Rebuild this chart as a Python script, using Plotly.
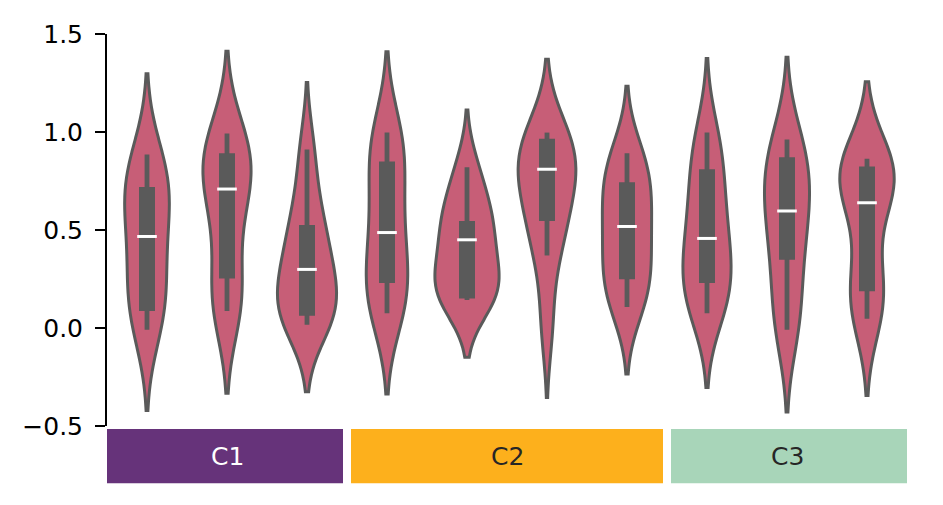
import numpy as np
import plotly.graph_objects as go

# ---- data ----
groups = ["C1", "C2", "C3"]
group_sizes = [3, 4, 3]
group_colors = ["#66337a", "#fdb01c", "#a8d5b9"]
group_text_colors = ["#ffffff", "#262626", "#262626"]

samples = [
    [-0.009, 0.08, 0.17, 0.28, 0.42, 0.56, 0.65, 0.72, 0.79, 0.885],
    [0.087, 0.12, 0.22, 0.45, 0.65, 0.74, 0.80, 0.86, 0.92, 0.992],
    [0.017, 0.05, 0.09, 0.15, 0.23, 0.32, 0.41, 0.51, 0.66, 0.911],
    [0.075, 0.12, 0.20, 0.30, 0.42, 0.55, 0.70, 0.85, 0.95, 0.997],
    [0.143, 0.15, 0.19, 0.25, 0.34, 0.43, 0.51, 0.58, 0.67, 0.82],
    [0.02, 0.37, 0.48, 0.60, 0.70, 0.77, 0.84, 0.90, 0.95, 0.997],
    [0.107, 0.17, 0.26, 0.35, 0.45, 0.55, 0.64, 0.73, 0.82, 0.891],
    [0.075, 0.14, 0.22, 0.30, 0.39, 0.49, 0.61, 0.74, 0.87, 0.997],
    [-0.009, 0.05, 0.25, 0.40, 0.52, 0.62, 0.71, 0.80, 0.88, 0.962],
    [0.047, 0.12, 0.20, 0.35, 0.66, 0.72, 0.76, 0.80, 0.83, 0.864],
]
bandwidths = [0.206, 0.21, 0.171, 0.206, 0.146, 0.187, 0.171, 0.189, 0.21, 0.196]

q1 = [0.087, 0.252, 0.062, 0.230, 0.151, 0.546, 0.249, 0.230, 0.348, 0.188]
medians = [0.467, 0.709, 0.299, 0.487, 0.450, 0.810, 0.518, 0.457, 0.597, 0.639]
q3 = [0.720, 0.891, 0.526, 0.849, 0.546, 0.965, 0.743, 0.810, 0.871, 0.824]
whisker_low = [-0.009, 0.087, 0.017, 0.075, 0.143, 0.370, 0.107, 0.075, -0.009, 0.047]
whisker_high = [0.885, 0.992, 0.911, 0.997, 0.820, 0.997, 0.891, 0.997, 0.962, 0.864]

y_ticks = [-0.5, 0.0, 0.5, 1.0, 1.5]

# ---- styles ----
violin_fill = "#c75e77"
edge = "#5a5a5a"
font_family = "DejaVu Sans"
max_violin_width = 0.8

n = len(samples)
positions = list(range(n))
x_range = [-0.5, n - 0.5]


def kde_peak(values, bw):
    v = np.asarray(values, dtype=float)
    grid = np.linspace(v.min() - 2 * bw, v.max() + 2 * bw, 801)
    dens = np.exp(-0.5 * ((grid[:, None] - v[None, :]) / bw) ** 2).sum(axis=1)
    dens /= len(v) * bw * np.sqrt(2 * np.pi)
    return dens.max()


# equal-area scaling: widest density peak gets the full width
peaks = [kde_peak(s, bw) for s, bw in zip(samples, bandwidths)]
widths = [max_violin_width * p / max(peaks) for p in peaks]

fig = go.Figure()

for pos, s, bw, w in zip(positions, samples, bandwidths, widths):
    fig.add_trace(go.Violin(
        x=[pos] * len(s), y=s, bandwidth=bw, width=w,
        scalegroup=f"v{pos}", scalemode="width", spanmode="soft",
        points=False, box_visible=False, meanline_visible=False,
        fillcolor=violin_fill, line=dict(color=edge, width=3),
        hoverinfo="skip", showlegend=False,
    ))

# whiskers
wx, wy = [], []
for pos, lo, hi in zip(positions, whisker_low, whisker_high):
    wx += [pos, pos, None]
    wy += [lo, hi, None]
fig.add_trace(go.Scatter(x=wx, y=wy, mode="lines",
                         line=dict(color=edge, width=4.8),
                         hoverinfo="skip", showlegend=False))
# boxes
bx, by = [], []
for pos, a, b in zip(positions, q1, q3):
    bx += [pos, pos, None]
    by += [a, b, None]
fig.add_trace(go.Scatter(x=bx, y=by, mode="lines",
                         line=dict(color=edge, width=16),
                         hoverinfo="skip", showlegend=False))
# medians
fig.add_trace(go.Scatter(x=positions, y=medians, mode="markers",
                         marker=dict(symbol="line-ew", size=14,
                                     line=dict(color="white", width=3)),
                         hoverinfo="skip", showlegend=False))

# category strips below the axis
shapes, annotations = [], []
start = 0
gap = 0.05
span = x_range[1] - x_range[0]
for gi, (g, size, col, tcol) in enumerate(zip(groups, group_sizes, group_colors, group_text_colors)):
    left = start - 0.5
    right = start + size - 0.5
    l = left + (gap if gi > 0 else 0)
    r = right - (gap if gi < len(groups) - 1 else 0)
    shapes.append(dict(type="rect", xref="paper", yref="paper",
                       x0=(l - x_range[0]) / span, x1=(r - x_range[0]) / span,
                       y0=-0.0076, y1=-0.146,
                       fillcolor=col, line=dict(width=0), layer="above"))
    annotations.append(dict(xref="x", yref="paper", x=(left + right) / 2, y=-0.077,
                            text=g, showarrow=False, xanchor="center", yanchor="middle",
                            font=dict(family=font_family, size=25, color=tcol)))
    start += size

# the page body adds an 8px margin, so the figure is 8px smaller than the window
fig.update_layout(
    width=935, height=497,
    margin=dict(l=99, r=36, t=21, b=79),
    paper_bgcolor="white", plot_bgcolor="white",
    violinmode="overlay",
    showlegend=False,
    shapes=shapes, annotations=annotations,
    font=dict(family=font_family, color="black"),
)
fig.update_xaxes(range=x_range, visible=False, showgrid=False, zeroline=False)
fig.update_yaxes(range=[-0.5, 1.5], tickvals=y_ticks, tickformat=".1f",
                 showline=True, linecolor="black", linewidth=2,
                 ticks="outside", ticklen=10, tickwidth=2, tickcolor="black",
                 tickfont=dict(family=font_family, size=25, color="black"),
                 ticklabelstandoff=7,
                 showgrid=False, zeroline=False)

fig.write_html("out.html")
